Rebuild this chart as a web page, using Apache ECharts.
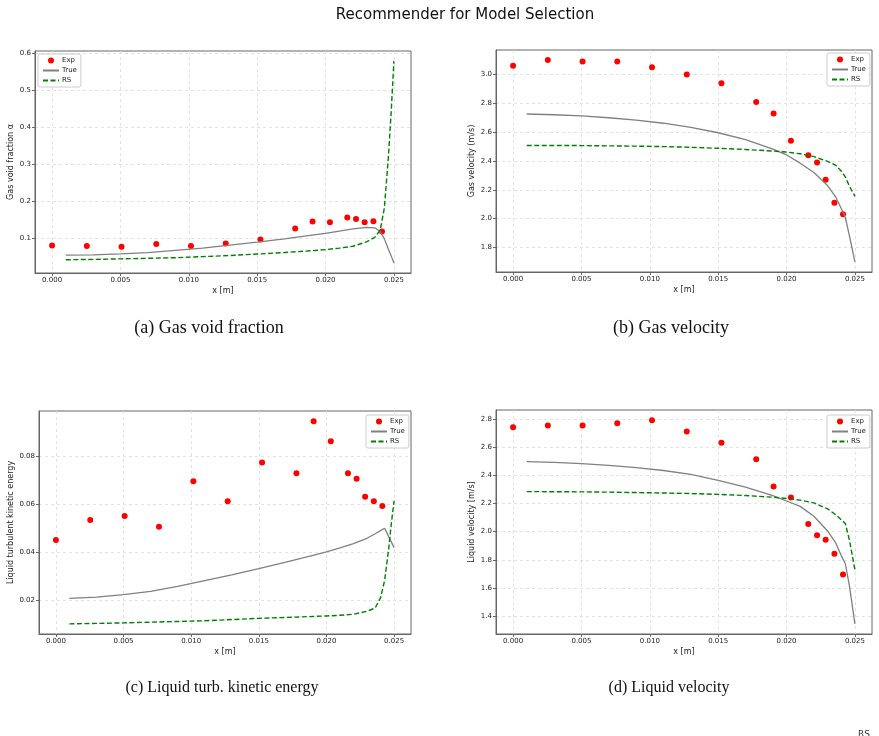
<!DOCTYPE html>
<html>
<head>
<meta charset="utf-8">
<script src="https://cdn.jsdelivr.net/npm/echarts@6/dist/echarts.min.js"></script>
<style>
  html, body { margin: 0; padding: 0; background: #fff; }
  #chart { width: 879px; height: 736px; }
</style>
</head>
<body>
<div id="chart"></div>
<script>
"use strict";

// Measurement positions (m) and model mesh positions (m)
const xExp = [0, 0.00254, 0.00508, 0.00762, 0.01016, 0.0127, 0.01524, 0.01778, 0.01905, 0.02032, 0.02159, 0.02223, 0.02286, 0.0235, 0.02413];
const xModel = [0.001, 0.003, 0.005, 0.007, 0.009, 0.011, 0.013, 0.015, 0.017, 0.019, 0.020, 0.021, 0.022, 0.023, 0.0236, 0.024, 0.0243, 0.0246, 0.0248, 0.025];

// (a) gas void fraction
const voidExp = [0.079, 0.0775, 0.0757, 0.083, 0.078, 0.0847, 0.0955, 0.125, 0.144, 0.142, 0.155, 0.151, 0.142, 0.145, 0.117];
const voidTrue = [0.053, 0.054, 0.0565, 0.060, 0.066, 0.072, 0.080, 0.088, 0.097, 0.107, 0.112, 0.118, 0.124, 0.128, 0.127, 0.117, 0.097, 0.069, 0.051, 0.032];
const voidRS = [0.0405, 0.0415, 0.043, 0.0445, 0.046, 0.049, 0.052, 0.056, 0.060, 0.065, 0.068, 0.072, 0.077, 0.089, 0.101, 0.121, 0.18, 0.32, 0.44, 0.578];

// (b) gas velocity
const gasVelExp = [3.06, 3.10, 3.09, 3.09, 3.05, 3.00, 2.94, 2.81, 2.73, 2.54, 2.44, 2.39, 2.27, 2.11, 2.03];
const gasVelTrue = [2.726, 2.721, 2.713, 2.700, 2.683, 2.662, 2.633, 2.596, 2.548, 2.483, 2.442, 2.385, 2.320, 2.230, 2.150, 2.070, 2.008, 1.880, 1.790, 1.700];
const gasVelRS = [2.508, 2.508, 2.507, 2.505, 2.503, 2.500, 2.495, 2.488, 2.480, 2.469, 2.462, 2.450, 2.430, 2.398, 2.370, 2.330, 2.290, 2.225, 2.190, 2.155];

// (c) liquid turbulent kinetic energy
const tkeExp = [0.0451, 0.0534, 0.0551, 0.0506, 0.0697, 0.0613, 0.0775, 0.0730, 0.0948, 0.0864, 0.0730, 0.0707, 0.0632, 0.0613, 0.0593];
const tkeTrue = [0.0207, 0.0212, 0.0222, 0.0236, 0.0257, 0.0281, 0.0305, 0.0331, 0.0358, 0.0386, 0.0401, 0.0418, 0.0436, 0.0458, 0.0477, 0.0490, 0.0500, 0.0465, 0.0442, 0.0418];
const tkeRS = [0.0100, 0.0102, 0.0104, 0.0107, 0.0110, 0.0113, 0.0118, 0.0123, 0.0127, 0.0131, 0.0133, 0.0136, 0.0140, 0.0153, 0.0166, 0.0210, 0.0281, 0.0414, 0.0522, 0.0615];

// (d) liquid velocity
const liqVelExp = [2.743, 2.755, 2.755, 2.771, 2.793, 2.712, 2.633, 2.514, 2.321, 2.243, 2.055, 1.974, 1.943, 1.843, 1.695];
const liqVelTrue = [2.498, 2.493, 2.484, 2.472, 2.456, 2.435, 2.407, 2.364, 2.316, 2.256, 2.218, 2.180, 2.110, 2.005, 1.920, 1.830, 1.772, 1.615, 1.480, 1.345];
const liqVelRS = [2.285, 2.284, 2.283, 2.281, 2.278, 2.275, 2.271, 2.265, 2.257, 2.245, 2.236, 2.224, 2.205, 2.162, 2.120, 2.085, 2.058, 1.940, 1.835, 1.728];

// Tick labels
const xTicks = [0, 0.005, 0.010, 0.015, 0.020, 0.025];
const voidTicks = [0.1, 0.2, 0.3, 0.4, 0.5, 0.6];
const gasVelTicks = [1.8, 2.0, 2.2, 2.4, 2.6, 2.8, 3.0];
const tkeTicks = [0.02, 0.04, 0.06, 0.08];
const liqVelTicks = [1.4, 1.6, 1.8, 2.0, 2.2, 2.4, 2.6, 2.8];

const TEXT = "#222";
const SPINE = "#666";
const GRIDLINE = "#dcdcdc";
const FONT = "DejaVu Sans";

// One entry per subplot; layout matches the 2x2 matplotlib figure.
// The top-row captions come out a little larger than the bottom-row ones.
const panels = [
  { grid: { left: 35, top: 51, width: 376, height: 222 }, yMin: 0.0047, yMax: 0.6053, ticks: voidTicks, digits: 1,
    yName: "Gas void fraction \u03b1", yGap: 20, exp: voidExp, tru: voidTrue, rs: voidRS,
    legend: { left: 38, top: 54 }, caption: "(a) Gas void fraction", capX: 209, capY: 328, capSize: 18 },
  { grid: { left: 496, top: 50, width: 376, height: 222 }, yMin: 1.63, yMax: 3.17, ticks: gasVelTicks, digits: 1,
    yName: "Gas velocity (m/s)", yGap: 20, exp: gasVelExp, tru: gasVelTrue, rs: gasVelRS,
    legend: { left: 827, top: 53 }, caption: "(b) Gas velocity", capX: 671, capY: 328, capSize: 18 },
  { grid: { left: 39, top: 411, width: 372, height: 223 }, yMin: 0.00576, yMax: 0.09904, ticks: tkeTicks, digits: 2,
    yName: "Liquid turbulent kinetic energy", yGap: 24, exp: tkeExp, tru: tkeTrue, rs: tkeRS,
    legend: { left: 366, top: 415 }, caption: "(c) Liquid turb. kinetic energy", capX: 222, capY: 688, capSize: 16 },
  { grid: { left: 496, top: 410, width: 376, height: 224 }, yMin: 1.2726, yMax: 2.865, ticks: liqVelTicks, digits: 1,
    yName: "Liquid velocity [m/s]", yGap: 20, exp: liqVelExp, tru: liqVelTrue, rs: liqVelRS,
    legend: { left: 827, top: 415 }, caption: "(d) Liquid velocity", capX: 669, capY: 688, capSize: 16 },
];

const zip = (xs, ys) => xs.map((x, i) => [x, ys[i]]);

const axisCommon = {
  type: "value",
  axisLine: { show: true, onZero: false, lineStyle: { color: SPINE, width: 1 } },
  axisTick: { show: true, length: 3, lineStyle: { color: SPINE } },
  splitLine: { show: true, lineStyle: { color: GRIDLINE, type: [3, 3], width: 0.8 } },
  nameTextStyle: { color: TEXT, fontFamily: FONT, fontSize: 8 },
};

// Line series draw a circle in their legend icon even with symbol "none";
// a transparent itemStyle hides it and leaves only the (dashed) line.
const hiddenSymbol = { color: "rgba(0,0,0,0)", borderWidth: 0 };

const option = {
  animation: false,
  backgroundColor: "#fff",
  grid: panels.map((p) => Object.assign({ show: true, borderColor: SPINE, borderWidth: 1, backgroundColor: "transparent" }, p.grid)),
  xAxis: panels.map((p, i) => Object.assign({}, axisCommon, {
    gridIndex: i,
    min: -0.00125,
    max: 0.02625,
    name: "x [m]",
    nameLocation: "middle",
    nameGap: 14,
    axisTick: Object.assign({}, axisCommon.axisTick, { customValues: xTicks }),
    axisLabel: { customValues: xTicks, margin: 4, color: TEXT, fontFamily: FONT, fontSize: 7,
      formatter: (v) => v.toFixed(3) },
  })),
  yAxis: panels.map((p, i) => Object.assign({}, axisCommon, {
    gridIndex: i,
    min: p.yMin,
    max: p.yMax,
    name: p.yName,
    nameLocation: "middle",
    nameGap: p.yGap,
    axisTick: Object.assign({}, axisCommon.axisTick, { customValues: p.ticks }),
    axisLabel: { customValues: p.ticks, margin: 4, color: TEXT, fontFamily: FONT, fontSize: 7,
      formatter: (v) => v.toFixed(p.digits) },
  })),
  legend: panels.map((p) => ({
    orient: "vertical",
    left: p.legend.left,
    top: p.legend.top,
    data: [
      { name: "Exp", icon: "circle" },
      { name: "True", itemStyle: hiddenSymbol },
      { name: "RS", itemStyle: hiddenSymbol },
    ],
    itemWidth: 16,
    itemHeight: 6,
    itemGap: 3,
    padding: [3, 4, 3, 4],
    backgroundColor: "rgba(255,255,255,0.85)",
    borderColor: "#ccc",
    borderWidth: 1,
    borderRadius: 2,
    selectedMode: false,
    textStyle: { color: TEXT, fontFamily: FONT, fontSize: 7, padding: [0, 0, 0, -2] },
  })),
  series: panels.flatMap((p, i) => [
    { name: "Exp", type: "scatter", xAxisIndex: i, yAxisIndex: i, symbolSize: 6,
      itemStyle: { color: "#ff0000", opacity: 1 }, data: zip(xExp, p.exp) },
    { name: "True", type: "line", xAxisIndex: i, yAxisIndex: i, symbol: "none",
      itemStyle: { color: "#808080" }, lineStyle: { color: "#808080", width: 1.3 }, data: zip(xModel, p.tru) },
    { name: "RS", type: "line", xAxisIndex: i, yAxisIndex: i, symbol: "none",
      itemStyle: { color: "#008000" }, lineStyle: { color: "#008000", width: 1.4, type: [5, 2.5] }, data: zip(xModel, p.rs) },
  ]),
  graphic: [
    { type: "text", x: 465, y: 15, style: { text: "Recommender for Model Selection", fill: "#111",
      font: "15px 'DejaVu Sans'", textAlign: "center", textVerticalAlign: "middle" } },
    ...panels.map((p) => ({ type: "text", x: p.capX, y: p.capY, style: { text: p.caption, fill: "#111",
      font: p.capSize + "px 'Liberation Serif'", textAlign: "center", textVerticalAlign: "middle" } })),
    { type: "text", x: 858, y: 730, style: { text: "RS", fill: "#333", font: "9px 'DejaVu Sans'" } },
  ],
};

const chart = echarts.init(document.getElementById("chart"), null, { renderer: "canvas" });
chart.setOption(option);
</script>
</body>
</html>
